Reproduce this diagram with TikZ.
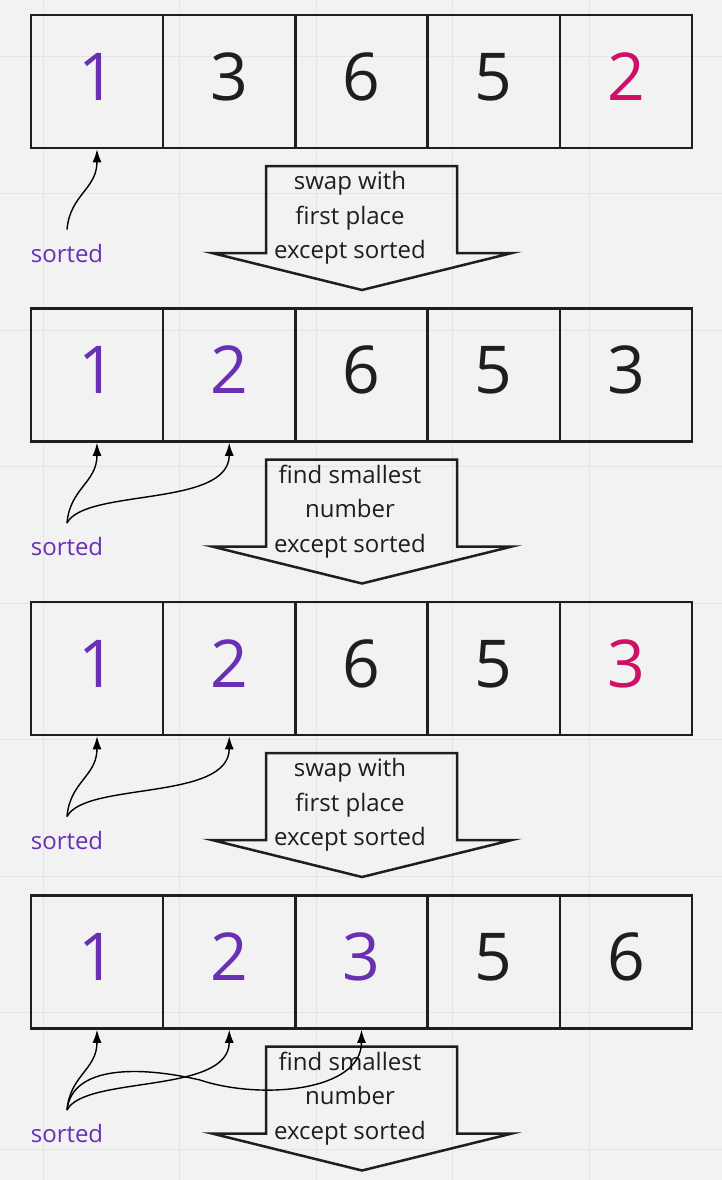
\documentclass[tikz,border=0pt]{standalone}
\usepackage{fontspec}
\setmainfont{Open Sans}
\usetikzlibrary{arrows.meta}
\definecolor{bg}{HTML}{F2F2F2}
\definecolor{gridc}{HTML}{E4E4E4}
\definecolor{ink}{HTML}{1E1E1E}
\definecolor{done}{HTML}{6A30B4}
\definecolor{pick}{HTML}{CE1167}
\tikzset{
    cell/.style={draw=ink, line width=2.5pt, minimum width=132.25pt, minimum height=133pt,
        text depth=10pt, font=\fontsize{66}{66}\selectfont},
    sortlbl/.style={text=done, inner sep=0pt, font=\fontsize{24}{24}\selectfont},
    steptext/.style={align=center, text=ink, font=\fontsize{24}{34.5}\selectfont},
    blockarrow/.style={draw=ink, line width=2.5pt, line join=miter},
    pointer/.style={draw=black, line width=1.4pt, -{Latex[length=13pt,width=9pt]}},
}
\begin{document}
\begin{tikzpicture}[x=1pt,y=-1pt]
        \fill[bg] (0,0) rectangle (722,1180);
        \useasboundingbox (0,0) rectangle (722,1180);
        % grid
        \foreach \x in {43,179.5,...,722}
            \draw[gridc,line width=1pt] (\x,0) -- (\x,1180);
        \foreach \y in {57,193.5,...,1180}
            \draw[gridc,line width=1pt] (0,\y) -- (722,\y);

        % arrays
        \foreach \r/\vals in {1/{1/done,3/ink,6/ink,5/ink,2/pick},
                              2/{1/done,2/done,6/ink,5/ink,3/ink},
                              3/{1/done,2/done,6/ink,5/ink,3/pick},
                              4/{1/done,2/done,3/done,5/ink,6/ink}}
            \foreach \v/\c [count=\i] in \vals
                \node[cell,text=\c] (r\r-\i) at ({97+(\i-1)*132.25},{81.5+(\r-1)*293.5}) {\v};

        % block arrows
        \foreach \r in {1,...,4} {
            \begin{scope}[yshift={-(\r-1)*293.5pt}]
                \draw[blockarrow] (266,166) -- (457,166) -- (457,253) -- (512,253)
                    -- (362,290) -- (212,253) -- (266,253) -- cycle;
                \node[sortlbl] (s\r) at (67,253) {sorted};
            \end{scope}
        }
        \node[steptext] (step1) at (350,218) {swap with\\first place\\except sorted};
        \node[steptext] (step2) at (350,511.5) {find smallest\\number\\except sorted};
        \node[steptext] (step3) at (350,805) {swap with\\first place\\except sorted};
        \node[steptext] (step4) at (350,1098.5) {find smallest\\number\\except sorted};

        % sorted pointers
        \foreach \r in {1,...,4}
            \draw[pointer] ([yshift=14pt]s\r.north) .. controls +(3,-35) and +(0,40) .. (r\r-1.south);
        \foreach \r in {2,3,4}
            \draw[pointer] ([yshift=14pt]s\r.north) .. controls +(18,-35) and +(0,65) .. (r\r-2.south);
        \coordinate (via) at (200,1080);
        \draw[pointer] ([yshift=14pt]s4.north) .. controls +(5,-45) and +(-60,-14) .. (via)
            .. controls +(60,20) and +(0,62) .. (r4-3.south);
    \end{tikzpicture}
\end{document}
